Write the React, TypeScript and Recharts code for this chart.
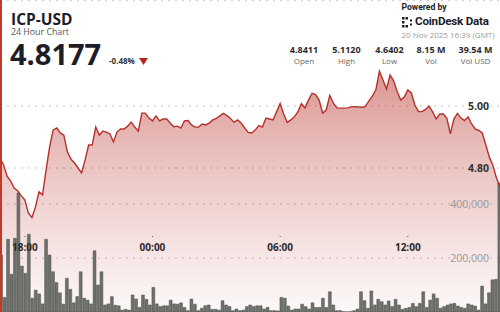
import { ComposedChart, Area, Line, Bar, XAxis, YAxis, CartesianGrid } from 'recharts'

// 10 minute candles, first one at 16:50
const startTime = '16:50'
const stepMinutes = 10

const prices = [
  4.832, 4.81, 4.774, 4.758, 4.735, 4.726, 4.71, 4.697, 4.655, 4.64,
  4.674, 4.723, 4.713, 4.794, 4.868, 4.923, 4.929, 4.913, 4.906, 4.852,
  4.829, 4.816, 4.8, 4.784, 4.826, 4.874, 4.874, 4.932, 4.906, 4.919,
  4.916, 4.91, 4.884, 4.916, 4.926, 4.926, 4.935, 4.948, 4.932, 4.919,
  4.977, 4.977, 4.961, 4.952, 4.968, 4.952, 4.958, 4.958, 4.945, 4.933,
  4.935, 4.929, 4.952, 4.953, 4.939, 4.932, 4.932, 4.942, 4.939, 4.945,
  4.955, 4.96, 4.968, 4.976, 4.969, 4.96, 4.947, 4.955, 4.945, 4.929,
  4.915, 4.913, 4.923, 4.937, 4.932, 4.961, 4.958, 4.955, 4.981, 5.008,
  4.974, 4.947, 4.955, 4.965, 4.981, 5.008, 4.994, 5.019, 5.041, 5.037,
  5.019, 4.977, 4.987, 5.034, 5.009, 4.994, 4.993, 4.993, 4.994, 4.997,
  4.998, 4.997, 4.996, 4.998, 5.016, 5.032, 5.052, 5.112, 5.084, 5.055,
  5.1, 5.081, 5.047, 5.019, 5.029, 5.052, 5.042, 5.003, 4.982, 4.982,
  4.989, 5.0, 4.981, 4.958, 4.974, 4.974, 4.961, 4.91, 4.958, 4.976,
  4.961, 4.953, 4.965, 4.942, 4.926, 4.921, 4.913, 4.874, 4.835, 4.808,
  4.768, 4.739,
]

const volumes = [
  211000, 54000, 269000, 140000, 273000, 441000, 170000, 143000, 288000, 51000,
  81000, 67000, 30000, 269000, 211000, 149000, 109000, 71000, 29000, 125000,
  84000, 34000, 57000, 149000, 51000, 44000, 30000, 227000, 100000, 149000,
  26000, 30000, 57000, 25000, 23000, 7000, 10000, 7000, 63000, 48000,
  17000, 63000, 47000, 26000, 91000, 30000, 20000, 23000, 23000, 44000,
  30000, 29000, 34000, 17000, 5000, 48000, 29000, 5000, 14000, 23000,
  26000, 10000, 10000, 7000, 42000, 26000, 20000, 5000, 11000, 5000,
  7000, 20000, 26000, 20000, 23000, 23000, 11000, 17000, 5000, 5000,
  4000, 54000, 51000, 22000, 7000, 11000, 11000, 29000, 20000, 11000,
  34000, 17000, 17000, 51000, 17000, 75000, 26000, 5000, 5000, 1000,
  1000, 1000, 5000, 11000, 75000, 42000, 14000, 78000, 26000, 47000,
  38000, 26000, 41000, 20000, 47000, 26000, 10000, 14000, 17000, 32000,
  20000, 32000, 75000, 17000, 44000, 67000, 51000, 14000, 20000, 26000,
  30000, 32000, 22000, 17000, 14000, 30000, 26000, 22000, 7000, 96000,
  30000, 71000, 119000, 121000, 478000,
]

const timeTicks = ['18:00', '00:00', '06:00', '12:00']
const priceTicks = [4.8, 5.0]
const volumeTicks = [200000, 400000]

const stats = [
  { value: '4.8411', label: 'Open', x: 304 },
  { value: '5.1120', label: 'High', x: 346.5 },
  { value: '4.6402', label: 'Low', x: 389.5 },
  { value: '8.15 M', label: 'Vol', x: 431 },
  { value: '39.54 M', label: 'Vol USD', x: 475.5 },
]

const toMinutes = (s: string) => {
  const [h, m] = s.split(':').map(Number)
  return h * 60 + m
}
const hoursFromStart = (s: string) => (((toMinutes(s) - toMinutes(startTime)) + 1440) % 1440) / 60
const labelForHours = (h: number) => {
  const m = Math.round(toMinutes(startTime) + h * 60) % 1440
  return `${String(Math.floor(m / 60)).padStart(2, '0')}:${String(m % 60).padStart(2, '0')}`
}

const rows = Array.from({ length: Math.max(prices.length, volumes.length) }, (_, k) => ({
  k,
  t: k < prices.length ? (k * stepMinutes) / 60 : undefined,
  price: k < prices.length ? prices[k] : null,
  vol: k < volumes.length ? volumes[k] : null,
}))

const FONT = '"Open Sans", sans-serif'
const LABEL_RIGHT = 489

const TimeTick = (props: any) => {
  const { x, y, payload } = props
  return (
    <g>
      <rect x={x - 0.5} y={y - 15} width={1} height={1} fill="#555" />
      <text x={x} y={y} textAnchor="middle" fontFamily={FONT} fontSize={10} fontWeight={700} fill="#2b2b2b">
        {labelForHours(payload.value)}
      </text>
    </g>
  )
}

const PriceTick = (props: any) => (
  <text x={LABEL_RIGHT} y={props.y} dy="0.36em" textAnchor="end" fontFamily={FONT} fontSize={10.5} fontWeight={700} fill="#333">
    {props.payload.value.toFixed(2)}
  </text>
)

const VolumeTick = (props: any) => (
  <text x={LABEL_RIGHT} y={props.y} dy="0.36em" textAnchor="end" fontFamily={FONT} fontSize={10.5} fill="#9a9a9a">
    {props.payload.value.toLocaleString('en-US')}
  </text>
)

function Header() {
  const base: React.CSSProperties = { position: 'absolute', lineHeight: 1, fontFamily: FONT, whiteSpace: 'nowrap' }
  return (
    <>
      <div style={{ ...base, left: 11, top: 11.6, fontSize: 15.5, fontWeight: 700, color: '#1d1d28' }}>ICP-USD</div>
      <div style={{ ...base, left: 11, top: 27.6, fontSize: 8.8, color: '#555' }}>24 Hour Chart</div>
      <div style={{ ...base, left: 10, top: 38.8, fontSize: 29, fontWeight: 700, color: '#1d1d28' }}>4.8177</div>
      <div style={{ ...base, left: 109, top: 57, fontSize: 8, fontWeight: 700, color: '#333' }}>-0.48%</div>
      <svg style={{ position: 'absolute', left: 139, top: 58 }} width={9} height={7}>
        <polygon points="0,0 9,0 4.5,7" fill="#b3261e" />
      </svg>

      <div style={{ ...base, left: 401.5, top: 3.4, fontSize: 8.6, fontWeight: 700, color: '#222', fontFamily: 'Roboto, sans-serif' }}>
        Powered by
      </div>
      <svg style={{ position: 'absolute', left: 401.5, top: 17 }} width={12} height={11}>
        <rect x={0} y={0} width={2.5} height={2.5} fill="#1d1d28" />
        <rect x={3.5} y={0} width={2.5} height={2.5} fill="#1d1d28" />
        <rect x={0} y={4} width={2.5} height={2.5} fill="#1d1d28" />
        <rect x={0} y={8} width={2.5} height={2.5} fill="#1d1d28" />
        <rect x={3.5} y={8} width={2.5} height={2.5} fill="#1d1d28" />
        <rect x={8} y={2.5} width={2} height={2} fill="#1d1d28" />
        <rect x={8} y={6.5} width={2} height={2} fill="#1d1d28" />
      </svg>
      <div style={{ ...base, left: 415, top: 16.4, fontSize: 11.6, fontWeight: 700, color: '#1d1d28', letterSpacing: -0.2, fontFamily: 'Roboto, sans-serif' }}>
        CoinDesk Data
      </div>
      <div style={{ ...base, left: 401.5, top: 31.3, fontSize: 8, color: '#9a9a9a' }}>20 Nov 2025 16:39 (GMT)</div>

      {stats.map((s) => (
        <div key={s.label}>
          <div style={{ ...base, left: s.x - 30, width: 60, textAlign: 'center', top: 45, fontSize: 9, fontWeight: 700, color: '#2b2b2b' }}>
            {s.value}
          </div>
          <div style={{ ...base, left: s.x - 30, width: 60, textAlign: 'center', top: 56.6, fontSize: 8, color: '#666' }}>
            {s.label}
          </div>
        </div>
      ))}
    </>
  )
}

export default function App() {
  return (
    <div style={{ position: 'absolute', left: 0, top: 0, width: 500, height: 312, background: '#fff', overflow: 'hidden' }}>
      <ComposedChart width={500} height={312} data={rows} margin={{ top: 0, right: 0, bottom: 0, left: 0 }}>
        <defs>
          <linearGradient id="priceFill" x1="0" y1="0" x2="0" y2="1">
            <stop offset="0%" stopColor="#b4281f" stopOpacity={0.82} />
            <stop offset="33%" stopColor="#b4281f" stopOpacity={0.5} />
            <stop offset="75%" stopColor="#b4281f" stopOpacity={0.2} />
            <stop offset="100%" stopColor="#b4281f" stopOpacity={0.05} />
          </linearGradient>
        </defs>
        <CartesianGrid yAxisId="p" xAxisId="time" vertical={false} stroke="#c4c4c4" strokeDasharray="2 5" />
        <CartesianGrid yAxisId="v" xAxisId="time" vertical={false} stroke="#c4c4c4" strokeDasharray="2 5" />
        <XAxis
          xAxisId="time"
          type="number"
          dataKey="t"
          domain={[0, ((prices.length - 1) * stepMinutes) / 60]}
          allowDataOverflow
          ticks={timeTicks.map(hoursFromStart)}
          interval={0}
          mirror
          axisLine={false}
          tickLine={false}
          tickSize={0}
          tickMargin={61}
          tick={<TimeTick />}
        />
        <XAxis xAxisId="bars" type="number" dataKey="k" domain={[-0.4, volumes.length - 0.9]} hide />
        <YAxis
          yAxisId="p"
          orientation="right"
          mirror
          domain={[4.3355, 5.3419]}
          allowDataOverflow
          ticks={priceTicks}
          interval={0}
          axisLine={false}
          tickLine={false}
          tick={<PriceTick />}
        />
        <YAxis
          yAxisId="v"
          orientation="right"
          mirror
          domain={[0, 1155556]}
          allowDataOverflow
          ticks={volumeTicks}
          interval={0}
          axisLine={false}
          tickLine={false}
          tick={<VolumeTick />}
        />
        <Area
          xAxisId="time"
          yAxisId="p"
          dataKey="price"
          type="linear"
          stroke="none"
          fill="url(#priceFill)"
          isAnimationActive={false}
        />
        <Bar
          xAxisId="bars"
          yAxisId="v"
          dataKey="vol"
          barSize={2.9}
          fill="#6d706b"
          stroke="#4e514c"
          strokeWidth={0.5}
          isAnimationActive={false}
        />
        <Line
          xAxisId="time"
          yAxisId="p"
          dataKey="price"
          type="linear"
          stroke="#b5302a"
          strokeWidth={1.4}
          dot={false}
          isAnimationActive={false}
        />
      </ComposedChart>
      <div style={{ position: 'absolute', left: 0, top: 0, width: 2, height: 312, background: '#c0392b' }} />
      <Header />
    </div>
  )
}
